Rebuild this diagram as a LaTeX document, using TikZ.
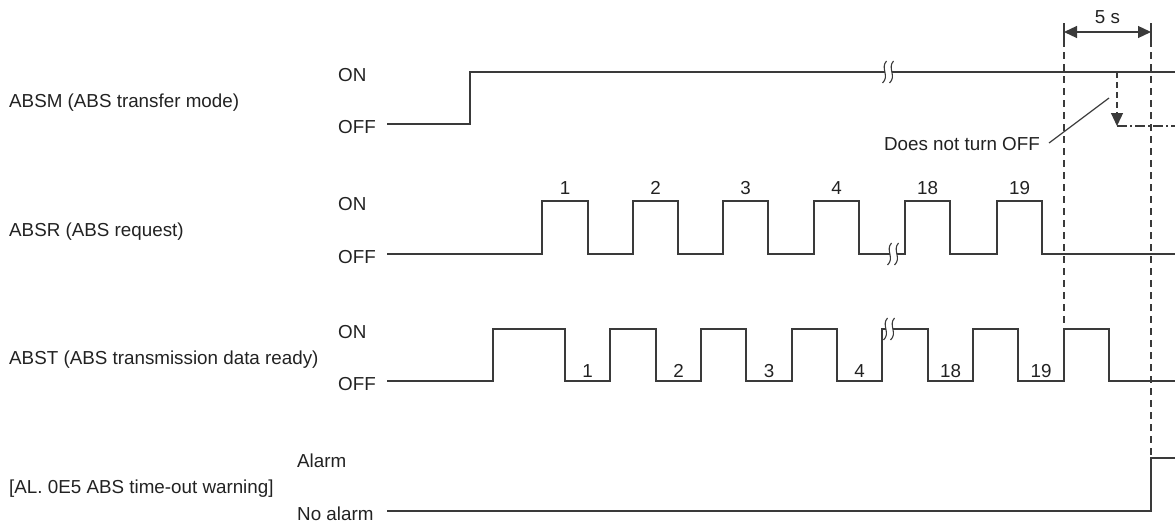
\documentclass[tikz,border=0pt]{standalone}
\usepackage{fontspec}
\setmainfont{Liberation Sans}
\usetikzlibrary{arrows.meta}
\definecolor{lc}{HTML}{3A3A3A}
\definecolor{tc}{HTML}{222222}
\begin{document}
\begin{tikzpicture}[x=1pt,y=-1pt,
  sig/.style={line width=1.3pt, draw=lc, line join=miter},
  txt/.style={inner sep=0pt, font=\fontsize{18.8}{22}\selectfont, text=tc},
  lbl/.style={txt, anchor=base west},
  num/.style={txt, anchor=base},
  dsh/.style={line width=1.2pt, draw=lc, dash pattern=on 7pt off 5pt},
  thin/.style={line width=1.2pt, draw=lc},
  tip/.style={-{Triangle[length=13pt,width=12pt]}},
  brkmark/.pic={
    \fill[white] (-3.5,-7) rectangle (3.5,7);
    \draw[line width=1.1pt, lc] (-1.5,-11) .. controls (-8,-4) and (2,4) .. (-5.5,11);
    \draw[line width=1.1pt, lc] (5.5,-11) .. controls (-1,-4) and (9,4) .. (1.5,11);
  }]
\useasboundingbox (0,0) rectangle (1175,525);

% left labels
\node[lbl] (lm) at (9,107) {ABSM (ABS transfer mode)};
\node[lbl] (lr) at (9,236) {ABSR (ABS request)};
\node[lbl] (lt) at (9,364) {ABST (ABS transmission data ready)};
\node[lbl] (la) at (9,493) {[AL. 0E5 ABS time-out warning]};

\node[lbl] (mon) at (338,81) {ON};
\node[lbl] (moff) at (338,133) {OFF};
\node[lbl] (ron) at (338,210) {ON};
\node[lbl] (roff) at (338,263) {OFF};
\node[lbl] (ton) at (338,338) {ON};
\node[lbl] (toff) at (338,390) {OFF};
\node[lbl] (aon) at (297,467) {Alarm};
\node[lbl] (aoff) at (297,520) {No alarm};

% ABSM
\draw[sig] (387,124) -- (470,124) -- (470,72) -- (1175,72);
\pic at (888,72) {brkmark};

% ABSR
\draw[sig] (387,254) -- (542,254) -- (542,201) -- (588,201) -- (588,254)
  -- (633,254) -- (633,201) -- (678,201) -- (678,254)
  -- (723,254) -- (723,201) -- (768,201) -- (768,254)
  -- (814,254) -- (814,201) -- (859,201) -- (859,254)
  -- (905,254) -- (905,201) -- (950,201) -- (950,254)
  -- (997,254) -- (997,201) -- (1042,201) -- (1042,254) -- (1175,254);
\pic at (893,254) {brkmark};
\foreach \x/\n [count=\i] in {565/1,655.5/2,745.5/3,836.5/4,927.5/18,1019.5/19}
  \node[num] (rn\i) at (\x,194) {\n};

% ABST
\draw[sig] (387,381) -- (493,381) -- (493,329) -- (565,329) -- (565,381)
  -- (610,381) -- (610,329) -- (656,329) -- (656,381)
  -- (701,381) -- (701,329) -- (746,329) -- (746,381)
  -- (792,381) -- (792,329) -- (837,329) -- (837,381)
  -- (882,381) -- (882,329) -- (928,329) -- (928,381)
  -- (973,381) -- (973,329) -- (1018,329) -- (1018,381)
  -- (1064,381) -- (1064,329) -- (1109,329) -- (1109,381) -- (1175,381);
\pic at (889,329) {brkmark};
\foreach \x/\n [count=\i] in {587.5/1,678.5/2,769/3,859.5/4,950.5/18,1041/19}
  \node[num] (tn\i) at (\x,377) {\n};

% Alarm
\draw[sig] (387,511) -- (1151,511) -- (1151,458) -- (1175,458);

% timing marks
\coordinate (a1) at (1064,23);
\coordinate (a2) at (1064,40);
\coordinate (a3) at (1064,329);
\coordinate (b1) at (1151,23);
\coordinate (b2) at (1151,40);
\coordinate (b3) at (1151,458);
\coordinate (d1) at (1064,32);
\coordinate (d2) at (1151,32);
\draw[thin] (a1) -- (a2);
\draw[thin] (b1) -- (b2);
\draw[dsh] (a2) -- (a3);
\draw[dsh] (b2) -- (b3);
\draw[thin, {Triangle[length=13pt,width=12pt]}-{Triangle[length=13pt,width=12pt]}] (d1) -- (d2);
\node[num] (five) at (1107.5,23) {5 s};

% does not turn off
\coordinate (c1) at (1117,72);
\coordinate (c2) at (1117,126);
\coordinate (c3) at (1175,126);
\draw[dsh, dash pattern=on 6pt off 4pt, tip] (c1) -- (c2);
\draw[thin, dash pattern=on 10pt off 3pt on 2pt off 3pt] (c2) -- (c3);
\node[txt, anchor=base east] (dn) at (1040,150) {Does not turn OFF};
\coordinate (e1) at (1049,143);
\coordinate (e2) at (1109,98);
\draw[thin] (e1) -- (e2);
\end{tikzpicture}
\end{document}
